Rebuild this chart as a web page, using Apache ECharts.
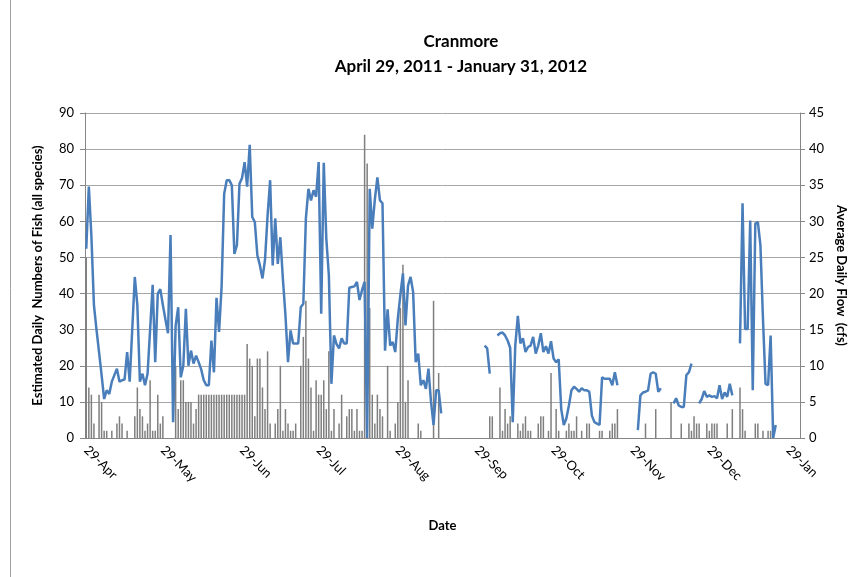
<!DOCTYPE html>
<html>
<head>
<meta charset="utf-8">
<script src="https://cdn.jsdelivr.net/npm/echarts@6/dist/echarts.min.js"></script>
<style>
  html, body { margin: 0; padding: 0; background: #fff; }
  #brokeLine { width: 862px; height: 577px; }
</style>
</head>
<body>
<div id="brokeLine"></div>
<script>
var monthNames = ['Jan', 'Feb', 'Mar', 'Apr', 'May', 'Jun', 'Jul', 'Aug', 'Sep', 'Oct', 'Nov', 'Dec']
var tickLabels = ['29-Apr', '29-May', '29-Jun', '29-Jul', '29-Aug', '29-Sep', '29-Oct', '29-Nov', '29-Dec', '29-Jan']
var dayCount = 280 // 29-Apr-2011 .. 2-Feb-2012, axis runs a bit past the data

// estimated daily numbers of fish, one value per day from 29-Apr
var fishList = [
  50, 14, 12, 4, 0, 12, 10, 2, 2, 0,
  2, 0, 4, 6, 4, 0, 2, 0, 0, 6,
  14, 8, 6, 2, 4, 16, 2, 2, 12, 4,
  6, 0, 0, 0, 0, 20, 8, 16, 16, 10,
  10, 10, 4, 8, 12, 12, 12, 12, 12, 12,
  12, 12, 12, 12, 12, 12, 12, 12, 12, 12,
  12, 12, 12, 26, 22, 20, 6, 22, 22, 14,
  8, 24, 4, 0, 4, 8, 20, 2, 8, 4,
  2, 2, 4, 0, 20, 28, 38, 22, 14, 2,
  16, 12, 12, 16, 8, 24, 2, 8, 0, 4,
  12, 0, 6, 8, 8, 2, 8, 2, 2, 84,
  76, 36, 12, 4, 12, 8, 6, 0, 20, 2,
  0, 4, 10, 36, 48, 10, 16, 0, 0, 0,
  4, 2, 0, 0, 0, 0, 38, 0, 18, 0,
  0, 0, 0, 0, 0, 0, 0, 0, 0, 0,
  0, 0, 0, 0, 0, 0, 0, 0, 6, 6,
  0, 0, 14, 2, 8, 4, 6, 0, 0, 4,
  2, 4, 6, 2, 2, 0, 0, 4, 6, 6,
  0, 2, 18, 0, 8, 2, 0, 0, 2, 4,
  2, 2, 6, 0, 2, 0, 4, 4, 0, 0,
  0, 2, 2, 0, 0, 2, 4, 4, 8, 0,
  0, 0, 0, 0, 0, 0, 0, 0, 0, 4,
  0, 0, 0, 8, 0, 0, 0, 0, 0, 10,
  0, 0, 0, 4, 0, 0, 4, 2, 6, 4,
  4, 0, 0, 4, 2, 4, 4, 4, 0, 0,
  0, 4, 0, 8, 0, 0, 14, 8, 2, 0,
  0, 0, 4, 4, 0, 2, 0, 2, 2, 0,
  0, 0, 0, 0, 0, 0, 0, 0
]

// average daily flow (cfs), null = no record
var flowList = [
  26.2, 34.8, 28, 18.4, 15, 11.9, 8.7, 5.4, 6.6, 6.1,
  7.8, 8.7, 9.6, 7.8, 8, 8.1, 11.9, 7.8, 15, 22.3,
  18.4, 7.8, 8.9, 7.3, 8.9, 15, 21.2, 10.5, 20, 20.6,
  18.4, 16.4, 14.5, 28.1, 2.2, 15.6, 18.1, 8.4, 10, 17.9,
  10, 12.1, 10.3, 11.4, 10.5, 9.5, 8, 7.3, 7.3, 13.5,
  9.1, 19.4, 14.7, 21, 33.8, 35.7, 35.7, 35, 25.5, 26.7,
  35.2, 36, 38.2, 34.8, 40.6, 30.6, 29.9, 25.3, 23.9, 22.1,
  24.7, 30.8, 35.7, 23.9, 30.4, 24.1, 27.8, 22, 17, 10.5,
  14.9, 13.1, 13.1, 13.1, 18.1, 18.6, 30.4, 34.5, 32.9, 34.3,
  33.4, 38.2, 17.2, 38.1, 27.6, 22.5, 7.5, 14.2, 13, 12.4,
  13.8, 13.1, 13.1, 20.8, 20.9, 21, 21.6, 19.1, 20.5, 21.6,
  0, 34.5, 29, 33, 36.1, 32.9, 32.5, 12.1, 17.8, 12.8,
  13.3, 11.9, 16.5, 19.8, 22.8, 15.6, 21.1, 22.3, 20.2, 10.5,
  11.7, 7.3, 8, 6.8, 9.6, 5, 1.8, 6.6, 6.6, 3.4,
  null, null, null, null, null, null, null, null, null, null,
  null, null, null, null, null, null, 12.8, 12.4, 8.9, null,
  null, 14.2, 14.5, 14.6, 14.2, 13.5, 12.5, 2.2, 12.8, 16.9,
  13.1, 13.8, 11.9, 12.6, 12.8, 14, 11.7, 12.8, 14.5, 11.9,
  12.7, 11.7, 13.4, 11, 10.5, 10.9, 4, 1.8, 2.7, 4.5,
  6.6, 7.1, 6.8, 6.4, 6.9, 6.6, 6.6, 6.4, 3.1, 2.2,
  2, 1.8, 8.4, 8.2, 8.2, 8.2, 7.3, 9.1, 7.3, null,
  null, null, null, null, null, null, 1.1, 5.9, 6.3, 6.4,
  6.6, 8.9, 9.1, 8.9, 6.4, 6.9, null, null, null, null,
  4.8, 5.5, 4.5, 4.3, 4.3, 8.7, 9.1, 10.3, null, null,
  4.8, 5.4, 6.5, 5.7, 5.9, 5.7, 5.8, 5.5, 7.3, 5.4,
  6.3, 5.7, 7.5, 5.9, null, null, 13.1, 32.5, 15.1, 15.1,
  30.1, 6.6, 29.7, 29.9, 26.7, 16.5, 7.5, 7.3, 14.2, 0,
  1.8, null, null, null, null, null, null, null
]

var dateList = []
for (var i = 0; i < dayCount; i++) {
  var d = new Date(2011, 3, 29 + i)
  dateList.push(d.getDate() + '-' + monthNames[d.getMonth()])
}

var isTick = function(idx, val) {
  return tickLabels.indexOf(val) > -1
}

var myChart = echarts.init(document.getElementById('brokeLine'))
var font = 'Lato, "Liberation Sans", sans-serif'
var gray = '#868686'

var option = {
  animation: false,
  backgroundColor: '#fff',
  textStyle: { fontFamily: font, color: '#000' },
  title: [
    {
      text: 'Cranmore',
      left: 456,
      top: 28,
      textAlign: 'center',
      textStyle: { fontFamily: font, fontSize: 17, fontWeight: 'bold', color: '#000' }
    },
    {
      text: 'April 29, 2011 - January 31, 2012',
      left: 456,
      top: 53,
      textAlign: 'center',
      textStyle: { fontFamily: font, fontSize: 17, fontWeight: 'bold', color: '#000' }
    }
  ],
  grid: {
    left: 85,
    right: 62,
    top: 113,
    bottom: 139
  },
  xAxis: {
    type: 'category',
    data: dateList,
    boundaryGap: true,
    name: 'Date',
    nameLocation: 'middle',
    nameGap: 81,
    nameTextStyle: { fontFamily: font, fontSize: 13, fontWeight: 'bold', color: '#000' },
    axisLine: { lineStyle: { color: gray, width: 1 } },
    axisTick: { interval: isTick, length: 5, lineStyle: { color: gray } },
    axisLabel: {
      interval: isTick,
      rotate: -45,
      margin: 10,
      fontFamily: font,
      fontSize: 13,
      color: '#000'
    },
    splitLine: { show: false }
  },
  yAxis: [
    {
      type: 'value',
      min: 0,
      max: 90,
      interval: 10,
      name: 'Estimated Daily  Numbers of Fish (all species)',
      nameLocation: 'middle',
      nameRotate: 90,
      nameGap: 41,
      nameTextStyle: { fontFamily: font, fontSize: 13, fontWeight: 'bold', color: '#000' },
      axisLine: { show: true, lineStyle: { color: gray, width: 1 } },
      axisTick: { show: true, length: 5, lineStyle: { color: gray } },
      axisLabel: { margin: 11, fontFamily: font, fontSize: 13, color: '#000' },
      splitLine: { show: true, lineStyle: { color: '#a6a6a6', width: 1 } }
    },
    {
      type: 'value',
      min: 0,
      max: 45,
      interval: 5,
      name: 'Average Daily Flow  (cfs)',
      nameLocation: 'middle',
      nameRotate: -90,
      nameGap: 35,
      nameTextStyle: { fontFamily: font, fontSize: 13, fontWeight: 'bold', color: '#000' },
      axisLine: { show: true, lineStyle: { color: gray, width: 1 } },
      axisTick: { show: true, length: 5, lineStyle: { color: gray } },
      axisLabel: { margin: 9, fontFamily: font, fontSize: 13, color: '#000' },
      splitLine: { show: false }
    }
  ],
  series: [
    {
      name: 'Fish',
      type: 'bar',
      yAxisIndex: 0,
      barWidth: 1.5,
      itemStyle: { color: '#7f7f7f' },
      data: fishList
    },
    {
      name: 'Flow',
      type: 'line',
      yAxisIndex: 1,
      showSymbol: false,
      connectNulls: false,
      lineStyle: { color: '#4a7ebb', width: 2.5 },
      itemStyle: { color: '#4a7ebb' },
      data: flowList
    }
  ],
  graphic: [
    {
      type: 'line',
      shape: { x1: 10.5, y1: 0, x2: 10.5, y2: 577 },
      style: { stroke: '#a0a0a0', lineWidth: 1 }
    }
  ]
}

myChart.setOption(option, true)
window.onresize = function() {
  myChart.resize()
}
</script>
</body>
</html>
